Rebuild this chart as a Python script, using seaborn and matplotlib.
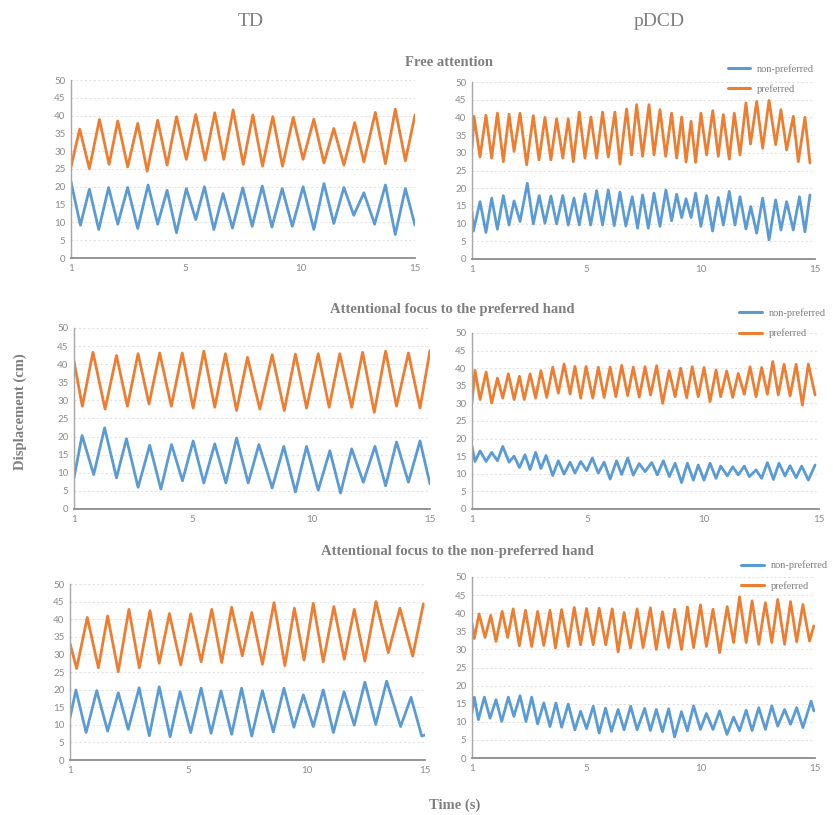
import matplotlib
matplotlib.use("Agg")
import matplotlib.pyplot as plt
import pandas as pd
import seaborn as sns
from matplotlib.lines import Line2D

# extrema (peak / trough) of each displacement trace
# time in seconds from trial start, displacement in cm

# TD - free attention
td_free_pref_t = [0, 0.38, 0.80, 1.24, 1.66, 2.04, 2.47, 2.91, 3.32, 3.78, 4.19, 4.60, 5.03, 5.44, 5.85, 6.27, 6.66, 7.07,
                  7.51, 7.93, 8.35, 8.80, 9.22, 9.69, 10.12, 10.59, 11.03, 11.46, 11.90, 12.37, 12.77, 13.27, 13.71, 14.14, 14.58, 15.00]
td_free_pref_y = [25.6, 36.2, 25.1, 38.9, 26.3, 38.5, 25.6, 37.8, 24.4, 38.7, 26.1, 39.7, 27.7, 40.3, 27.5, 40.8, 27.7, 41.6,
                  26.3, 40.2, 25.8, 39.7, 25.8, 39.5, 27.7, 39.0, 26.7, 36.4, 26.1, 38.0, 27.0, 40.9, 26.5, 41.8, 27.3, 40.2]
td_free_non_t = [0, 0.41, 0.80, 1.21, 1.64, 2.04, 2.47, 2.91, 3.36, 3.78, 4.19, 4.60, 5.03, 5.44, 5.82, 6.23, 6.63, 7.04,
                 7.49, 7.90, 8.34, 8.76, 9.21, 9.65, 10.12, 10.59, 11.03, 11.46, 11.90, 12.33, 12.77, 13.24, 13.71, 14.14, 14.58, 15.00]
td_free_non_y = [21.4, 9.2, 19.3, 8.0, 19.8, 9.5, 19.8, 8.3, 20.5, 9.5, 19.0, 7.1, 19.5, 10.8, 20.0, 8.0, 18.1, 8.4,
                 19.7, 8.9, 20.2, 8.7, 19.5, 8.9, 20.0, 8.0, 20.9, 9.7, 19.8, 12.0, 18.3, 9.5, 20.5, 6.6, 19.5, 9.2]

# TD - focus on preferred hand
td_pref_pref_t = [0, 0.35, 0.80, 1.31, 1.79, 2.25, 2.70, 3.16, 3.61, 4.10, 4.56, 5.02, 5.47, 5.93, 6.38, 6.85, 7.31,
                  7.83, 8.35, 8.86, 9.33, 9.80, 10.29, 10.75, 11.20, 11.70, 12.16, 12.65, 13.13, 13.59, 14.09, 14.58, 15.00]
td_pref_pref_y = [40.8, 28.4, 43.3, 27.6, 42.4, 28.4, 42.9, 29.0, 43.1, 28.4, 43.1, 27.9, 43.6, 28.1, 42.9, 27.2, 41.9,
                  27.6, 42.6, 27.2, 42.8, 27.9, 42.9, 28.1, 42.9, 28.1, 43.3, 26.7, 43.6, 28.4, 43.1, 27.9, 43.8]
td_pref_non_t = [0, 0.34, 0.83, 1.29, 1.79, 2.21, 2.70, 3.19, 3.66, 4.11, 4.57, 5.02, 5.47, 5.93, 6.40, 6.85, 7.34,
                 7.79, 8.35, 8.84, 9.33, 9.80, 10.29, 10.78, 11.23, 11.70, 12.19, 12.68, 13.13, 13.59, 14.09, 14.58, 15.00]
td_pref_non_y = [8.6, 20.3, 9.5, 22.4, 8.6, 19.4, 6.0, 17.6, 5.5, 17.8, 7.8, 18.8, 7.2, 18.0, 7.2, 19.6, 7.2,
                 17.8, 5.8, 17.3, 4.7, 17.3, 5.2, 16.1, 4.4, 16.6, 7.4, 17.3, 6.4, 18.5, 7.4, 18.8, 6.9]

# TD - focus on non-preferred hand
td_non_pref_t = [0, 0.28, 0.73, 1.20, 1.59, 2.04, 2.49, 2.93, 3.38, 3.77, 4.20, 4.68, 5.10, 5.54, 5.99, 6.41, 6.83, 7.28,
                 7.68, 8.13, 8.62, 9.08, 9.48, 9.89, 10.28, 10.70, 11.15, 11.59, 12.01, 12.46, 12.93, 13.45, 13.94, 14.48, 14.93]
td_non_pref_y = [33.1, 26.0, 40.5, 26.2, 40.9, 25.1, 42.8, 26.2, 42.4, 27.5, 41.6, 27.0, 41.5, 27.9, 42.8, 27.7, 43.4, 29.6,
                 41.9, 27.2, 44.7, 26.8, 43.1, 28.4, 44.5, 27.9, 43.6, 28.6, 42.8, 28.1, 45.0, 30.5, 43.1, 29.5, 44.3]
td_non_non_t = [0, 0.25, 0.68, 1.13, 1.59, 2.04, 2.46, 2.92, 3.35, 3.77, 4.23, 4.65, 5.10, 5.54, 5.96, 6.38, 6.83, 7.25,
                7.68, 8.13, 8.59, 9.04, 9.46, 9.86, 10.28, 10.70, 11.13, 11.58, 12.01, 12.46, 12.92, 13.38, 13.97, 14.41, 14.86, 15.00]
td_non_non_y = [12.0, 19.9, 7.8, 19.7, 8.2, 19.1, 8.7, 20.5, 6.9, 20.8, 6.6, 19.4, 7.8, 20.4, 7.6, 19.6, 7.3, 20.4,
                6.8, 19.7, 8.0, 20.4, 9.3, 18.5, 9.5, 19.9, 7.8, 19.4, 9.9, 22.1, 10.1, 22.4, 9.5, 17.8, 6.8, 7.1]

# pDCD - free attention
pdcd_free_pref_t = [0, 0.09, 0.35, 0.61, 0.86, 1.11, 1.37, 1.62, 1.84, 2.10, 2.39, 2.68, 2.93, 3.19, 3.45, 3.70, 3.97,
                    4.21, 4.43, 4.69, 4.94, 5.20, 5.45, 5.71, 5.96, 6.25, 6.47, 6.76, 6.98,
                    7.20, 7.46, 7.74, 7.96, 8.22, 8.47, 8.73, 8.95, 9.17, 9.36, 9.58, 9.78, 10.01, 10.26, 10.53, 10.77,
                    10.99, 11.25, 11.47, 11.72, 11.98, 12.18, 12.45, 12.71, 12.99, 13.28, 13.51, 13.76, 14.05, 14.27, 14.56, 14.78]
pdcd_free_pref_y = [31.3, 40.3, 28.8, 40.6, 28.5, 41.2, 27.5, 40.9, 30.4, 41.2, 26.6, 40.5, 28.0, 40.0, 28.0, 39.6, 28.5,
                    39.6, 27.5, 41.5, 28.5, 40.1, 28.5, 41.5, 28.8, 41.5, 26.8, 42.4, 29.4,
                    43.6, 29.0, 43.6, 29.4, 42.2, 29.0, 41.2, 28.5, 40.1, 27.4, 38.9, 27.3, 41.2, 29.4, 41.9, 29.0,
                    40.8, 28.2, 41.2, 29.4, 44.1, 32.5, 44.5, 31.3, 44.8, 32.3, 42.2, 30.8, 40.3, 27.5, 40.0, 27.1]
pdcd_free_non_t = [0, 0.06, 0.35, 0.61, 0.86, 1.11, 1.37, 1.62, 1.84, 2.10, 2.42, 2.68, 2.94, 3.19, 3.45, 3.70, 3.97,
                   4.21, 4.46, 4.69, 4.94, 5.19, 5.45, 5.71, 5.96, 6.22, 6.47, 6.73, 7.01, 7.24,
                   7.46, 7.71, 7.96, 8.22, 8.48, 8.73, 8.95, 9.17, 9.36, 9.58, 9.78, 10.01, 10.26, 10.52, 10.77, 10.99,
                   11.25, 11.50, 11.72, 11.98, 12.19, 12.45, 12.71, 12.99, 13.28, 13.51, 13.76, 14.05, 14.32, 14.56, 14.78]
pdcd_free_non_y = [13.4, 7.9, 16.2, 7.5, 17.2, 8.4, 17.9, 9.6, 16.4, 10.6, 21.4, 9.9, 17.9, 10.1, 17.8, 9.9, 17.9,
                   9.6, 17.2, 9.6, 18.4, 9.6, 19.3, 9.6, 19.5, 9.4, 18.9, 9.3, 17.6, 8.7,
                   18.1, 8.7, 18.6, 9.2, 19.5, 10.8, 18.3, 11.7, 17.0, 11.7, 18.6, 9.2, 17.9, 7.9, 17.4, 9.6,
                   19.1, 9.6, 17.6, 8.5, 14.8, 7.3, 17.2, 5.4, 16.7, 8.2, 16.2, 8.2, 17.6, 7.7, 18.1]

# pDCD - focus on preferred hand
pdcd_pref_pref_t = [0, 0.13, 0.35, 0.61, 0.85, 1.10, 1.33, 1.57, 1.82, 2.05, 2.26, 2.51, 2.75, 2.98, 3.23, 3.49, 3.73,
                    3.98, 4.24, 4.45, 4.70, 4.93, 5.22, 5.46, 5.71, 5.97, 6.22, 6.47, 6.73, 6.97, 7.23,
                    7.48, 7.72, 7.98, 8.24, 8.52, 8.78, 9.02, 9.28, 9.52, 9.78, 10.03, 10.29, 10.55, 10.75, 11.01,
                    11.27, 11.51, 11.77, 12.02, 12.28, 12.52, 12.77, 13.00, 13.24, 13.49, 13.75, 14.01, 14.28, 14.54, 14.83]
pdcd_pref_pref_y = [30.4, 39.4, 31.1, 38.9, 30.1, 37.2, 31.5, 38.4, 31.1, 37.7, 31.1, 38.4, 31.5, 39.3, 31.7, 40.3, 32.9,
                    41.2, 32.7, 40.5, 31.5, 40.5, 31.5, 40.3, 31.7, 40.3, 31.9, 40.8, 32.2, 40.3, 31.8,
                    40.4, 32.4, 40.7, 30.0, 39.3, 31.9, 40.0, 31.6, 40.4, 31.9, 40.2, 30.5, 39.5, 31.9, 39.2,
                    31.7, 38.5, 32.6, 40.4, 31.9, 40.2, 32.6, 41.9, 32.4, 41.1, 32.1, 41.1, 29.5, 41.2, 32.4]
pdcd_pref_non_t = [0, 0.13, 0.35, 0.61, 0.85, 1.10, 1.33, 1.60, 1.82, 2.05, 2.29, 2.51, 2.75, 2.98, 3.20, 3.49, 3.73,
                   3.98, 4.24, 4.45, 4.70, 4.96, 5.20, 5.46, 5.71, 5.97, 6.25, 6.47, 6.73, 6.97, 7.23,
                   7.48, 7.77, 8.01, 8.27, 8.53, 8.78, 9.06, 9.31, 9.57, 9.78, 10.03, 10.29, 10.55, 10.75, 11.04,
                   11.27, 11.51, 11.77, 11.99, 12.28, 12.52, 12.77, 13.03, 13.27, 13.53, 13.75, 14.01, 14.25, 14.54, 14.83]
pdcd_pref_non_y = [17.8, 13.5, 16.5, 13.5, 16.1, 13.7, 17.8, 13.3, 15.0, 11.8, 15.4, 11.2, 16.1, 11.5, 15.2, 9.5, 13.7,
                   9.9, 13.3, 10.2, 13.5, 10.9, 14.5, 10.2, 13.3, 8.5, 13.7, 9.8, 14.5, 9.6, 12.9,
                   10.6, 13.2, 9.7, 13.7, 9.2, 13.0, 7.5, 13.0, 8.2, 12.5, 8.2, 13.0, 8.7, 12.2, 9.4,
                   12.0, 9.7, 12.2, 9.2, 11.1, 8.7, 13.2, 8.4, 13.0, 9.4, 12.3, 8.9, 12.2, 8.2, 12.5]

# pDCD - focus on non-preferred hand
pdcd_non_pref_t = [0, 0.10, 0.31, 0.57, 0.82, 1.05, 1.32, 1.56, 1.80, 2.07, 2.34, 2.61, 2.87, 3.14, 3.41, 3.65, 3.92,
                   4.21, 4.47, 4.75, 5.01, 5.30, 5.56, 5.85, 6.13, 6.39, 6.65, 6.93, 7.22,
                   7.48, 7.80, 8.06, 8.33, 8.60, 8.86, 9.16, 9.42, 9.69, 9.99, 10.25, 10.54, 10.83, 11.16, 11.44,
                   11.70, 11.99, 12.25, 12.54, 12.83, 13.11, 13.37, 13.67, 13.93, 14.20, 14.47, 14.76, 14.95]
pdcd_non_pref_y = [37.3, 33.0, 39.8, 33.3, 39.4, 32.2, 40.5, 33.3, 41.2, 31.0, 40.8, 30.8, 40.5, 31.1, 40.8, 30.4, 41.0,
                   30.8, 41.6, 31.3, 41.3, 31.3, 41.4, 31.3, 41.2, 29.3, 40.2, 30.4, 41.2,
                   30.5, 41.5, 30.0, 40.4, 30.5, 41.1, 30.0, 41.7, 30.5, 42.3, 30.8, 41.1, 29.1, 41.8, 31.9,
                   44.5, 31.9, 43.4, 31.4, 42.9, 31.9, 43.8, 31.4, 43.2, 32.1, 42.4, 32.3, 36.5]
pdcd_non_non_t = [0, 0.10, 0.28, 0.54, 0.79, 1.05, 1.30, 1.59, 1.83, 2.10, 2.36, 2.61, 2.87, 3.14, 3.41, 3.67, 3.92,
                  4.21, 4.50, 4.75, 5.01, 5.30, 5.56, 5.84, 6.10, 6.39, 6.65, 6.94, 7.22,
                  7.55, 7.80, 8.06, 8.33, 8.60, 8.86, 9.16, 9.42, 9.69, 9.99, 10.25, 10.54, 10.83, 11.15, 11.44,
                  11.70, 11.99, 12.25, 12.54, 12.83, 13.11, 13.37, 13.67, 13.93, 14.20, 14.47, 14.83, 14.95]
pdcd_non_non_y = [12.4, 16.8, 10.6, 16.8, 11.0, 16.1, 10.1, 16.8, 11.5, 17.2, 10.1, 16.8, 9.4, 15.2, 8.7, 15.2, 8.5,
                  14.9, 7.8, 12.9, 8.1, 14.3, 6.9, 13.8, 7.4, 13.4, 7.8, 14.3, 7.8,
                  13.7, 7.6, 13.4, 7.3, 13.6, 5.8, 12.8, 7.5, 14.4, 7.9, 12.3, 7.9, 13.0, 6.5, 11.3,
                  7.5, 13.2, 7.6, 13.9, 7.9, 14.4, 8.8, 13.4, 9.3, 13.9, 8.4, 15.7, 13.0]

hands = ["non-preferred", "preferred"]
group_labels = ["TD", "pDCD"]
condition_titles = ["Free attention", "Attentional focus to the preferred hand",
                    "Attentional focus to the non-preferred hand"]
x_tick_pos = [0, 5, 10, 15]
x_tick_labels = ["1", "5", "10", "15"]
y_ticks = list(range(0, 51, 5))

BLUE = "#5b9bd5"
ORANGE = "#ed7d31"
GREY = "#7f7f7f"
SERIF = "Liberation Serif"
palette = {"non-preferred": BLUE, "preferred": ORANGE}

W, H = 833, 815


def frame(non_t, non_y, pref_t, pref_y):
    a = pd.DataFrame({"time": non_t, "disp": non_y, "hand": "non-preferred"})
    b = pd.DataFrame({"time": pref_t, "disp": pref_y, "hand": "preferred"})
    return pd.concat([a, b], ignore_index=True)


# (left, right, top, bottom) of each axes in pixels, legend anchor or None
panels = [
    ((71, 415, 80, 258), frame(td_free_non_t, td_free_non_y, td_free_pref_t, td_free_pref_y), None),
    ((472, 815, 82, 259), frame(pdcd_free_non_t, pdcd_free_non_y, pdcd_free_pref_t, pdcd_free_pref_y), (0.745, 1.10)),
    ((74, 430, 328, 509), frame(td_pref_non_t, td_pref_non_y, td_pref_pref_t, td_pref_pref_y), None),
    ((472, 819, 333, 509), frame(pdcd_pref_non_t, pdcd_pref_non_y, pdcd_pref_pref_t, pdcd_pref_pref_y), (0.770, 1.14)),
    ((70, 425, 584, 760), frame(td_non_non_t, td_non_non_y, td_non_pref_t, td_non_pref_y), None),
    ((472, 815, 577, 758), frame(pdcd_non_non_t, pdcd_non_non_y, pdcd_non_pref_t, pdcd_non_pref_y), (0.785, 1.09)),
]

sns.set_theme(style="white")
plt.rcParams["font.family"] = ["Lato", "DejaVu Sans"]

fig = plt.figure(figsize=(W / 100, H / 100), dpi=100)
fig.patch.set_facecolor("white")

for (l, r, t, b), df, leg in panels:
    ax = fig.add_axes([l / W, 1 - b / H, (r - l) / W, (b - t) / H])
    sns.lineplot(data=df, x="time", y="disp", hue="hand", palette=palette, hue_order=hands,
                 estimator=None, linewidth=2.0, legend=False, ax=ax)
    for ln in ax.lines:
        ln.set_solid_joinstyle("round")
        ln.set_solid_capstyle("round")
    ax.set_xlim(0, 15)
    ax.set_ylim(0, 50)
    ax.set_xticks(x_tick_pos)
    ax.set_xticklabels(x_tick_labels)
    ax.set_yticks(y_ticks)
    ax.set_xlabel("")
    ax.set_ylabel("")
    ax.tick_params(length=0, labelsize=7, colors="#8a8a8a", pad=4)
    ax.yaxis.grid(True, color="#e2e2e2", linestyle=(0, (2, 2)), linewidth=0.8)
    ax.xaxis.grid(False)
    ax.set_axisbelow(True)
    for s in ["top", "right"]:
        ax.spines[s].set_visible(False)
    ax.spines["left"].set_color("#a6a6a6")
    ax.spines["left"].set_linewidth(1.0)
    ax.spines["bottom"].set_color("#8c8c8c")
    ax.spines["bottom"].set_linewidth(1.3)
    if leg is not None:
        handles = [Line2D([], [], color=palette[h], lw=2.2) for h in hands]
        ax.legend(handles, hands, loc="upper left", bbox_to_anchor=leg, frameon=False,
                  prop={"family": SERIF, "size": 7.5}, labelcolor=GREY, handlelength=2.2,
                  handletextpad=0.6, labelspacing=1.0, borderpad=0, borderaxespad=0)

# column headers
fig.text(251 / W, 1 - 21 / H, group_labels[0], ha="center", va="center", fontsize=14, color=GREY, family=SERIF)
fig.text(659 / W, 1 - 21 / H, group_labels[1], ha="center", va="center", fontsize=14, color=GREY, family=SERIF)

# condition titles
for (cx, cy), title in zip([(449, 62), (452, 310), (457, 552)], condition_titles):
    fig.text(cx / W, 1 - cy / H, title, ha="center", va="center", fontsize=10.5,
             fontweight="bold", color=GREY, family=SERIF)

fig.text(20 / W, 1 - 412 / H, "Displacement (cm)", rotation=90, ha="center", va="center",
         fontsize=10.5, fontweight="bold", color=GREY, family=SERIF)
fig.text(455 / W, 1 - 805 / H, "Time (s)", ha="center", va="center",
         fontsize=10.5, fontweight="bold", color=GREY, family=SERIF)

fig.savefig("out.png", dpi=100, facecolor="white")
